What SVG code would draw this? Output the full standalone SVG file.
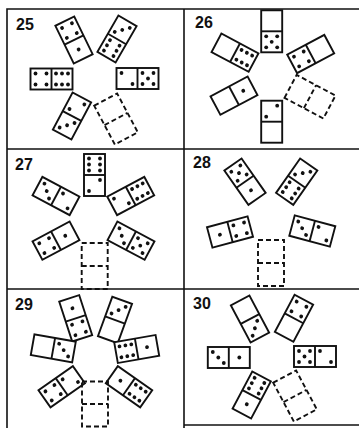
<svg xmlns="http://www.w3.org/2000/svg" xmlns:xlink="http://www.w3.org/1999/xlink" width="359" height="428" viewBox="0 0 359 428">
<style>
.frame{stroke:#111;stroke-width:1.6;fill:none}
.dom rect,.dom line{fill:#fff;stroke:#111;stroke-width:1.9}
.dash rect,.dash line{fill:none;stroke:#111;stroke-width:1.9;stroke-dasharray:5 3}
.pip{fill:#111}
.lbl{font-family:"Liberation Sans",Arial,sans-serif;font-weight:bold;font-size:16px;fill:#111}
</style>
<defs>
<g id="f1" class="pip"><circle r="1.9"/></g>
<g id="f2" class="pip"><circle cx="5.5" cy="-5.5" r="1.9"/><circle cx="-5.5" cy="5.5" r="1.9"/></g>
<g id="f3" class="pip"><circle cx="5.5" cy="-5.5" r="1.9"/><circle r="1.9"/><circle cx="-5.5" cy="5.5" r="1.9"/></g>
<g id="f4" class="pip"><circle cx="-5.5" cy="-5.5" r="1.9"/><circle cx="5.5" cy="-5.5" r="1.9"/><circle cx="-5.5" cy="5.5" r="1.9"/><circle cx="5.5" cy="5.5" r="1.9"/></g>
<g id="f5" class="pip"><circle cx="-5.5" cy="-5.5" r="1.9"/><circle cx="5.5" cy="-5.5" r="1.9"/><circle r="1.9"/><circle cx="-5.5" cy="5.5" r="1.9"/><circle cx="5.5" cy="5.5" r="1.9"/></g>
<g id="f6" class="pip"><circle cx="-5.5" cy="-6" r="1.9"/><circle cx="-5.5" cy="0" r="1.9"/><circle cx="-5.5" cy="6" r="1.9"/><circle cx="5.5" cy="-6" r="1.9"/><circle cx="5.5" cy="0" r="1.9"/><circle cx="5.5" cy="6" r="1.9"/></g>
</defs>

<g id="frame" class="frame">
<path d="M7 428V9H359"/>
<path d="M184 9V428"/>
<path d="M7 149H359M7 289H359"/>
<path d="M184 425H359"/>
</g>

<g id="labels" class="lbl">
<text x="16" y="30">25</text>
<text x="195" y="28">26</text>
<text x="15" y="170">27</text>
<text x="193" y="168">28</text>
<text x="15" y="310">29</text>
<text x="193" y="309">30</text>
</g>

<g id="connectors"/>

<!-- Panel 25 -->
<g id="p25a" class="dom" transform="translate(74 40) rotate(-26)"><rect x="-10.5" y="-21" width="21" height="42"/><line x1="-10.5" x2="10.5"/><use href="#f4" y="-10.5"/><use href="#f1" y="10.5"/></g>
<g id="p25b" class="dom" transform="translate(117 39) rotate(30)"><rect x="-10.5" y="-21" width="21" height="42"/><line x1="-10.5" x2="10.5"/><use href="#f3" y="-10.5"/><use href="#f6" y="10.5"/></g>
<g id="p25c" class="dom" transform="translate(51.5 79) rotate(-90)"><rect x="-10.5" y="-21" width="21" height="42"/><line x1="-10.5" x2="10.5"/><use href="#f4" y="-10.5"/><use href="#f6" y="10.5"/></g>
<g id="p25d" class="dom" transform="translate(137.5 78.5) rotate(-90)"><rect x="-10.5" y="-21" width="21" height="42"/><line x1="-10.5" x2="10.5"/><use href="#f2" y="-10.5"/><use href="#f5" y="10.5"/></g>
<g id="p25e" class="dom" transform="translate(72 116) rotate(28)"><rect x="-10.5" y="-21" width="21" height="42"/><line x1="-10.5" x2="10.5"/><use href="#f2" y="-10.5"/><use href="#f3" y="10.5"/></g>
<g id="p25f" class="dash" transform="translate(116 119) rotate(-28)"><rect x="-13" y="-22" width="26" height="44"/><line x1="-13" x2="13"/></g>

<!-- Panel 26 -->
<g id="p26a" class="dom" transform="translate(271.7 31.3)"><rect x="-10.5" y="-21" width="21" height="42"/><line x1="-10.5" x2="10.5"/><use href="#f5" y="10.5"/></g>
<g id="p26b" class="dom" transform="translate(235 52.7) rotate(-62)"><rect x="-10.5" y="-21" width="21" height="42"/><line x1="-10.5" x2="10.5"/><use href="#f6" y="10.5"/></g>
<g id="p26c" class="dom" transform="translate(310.7 54) rotate(-118)"><rect x="-10.5" y="-21" width="21" height="42"/><line x1="-10.5" x2="10.5"/><use href="#f4" y="-10.5"/></g>
<g id="p26d" class="dom" transform="translate(234 95.7) rotate(-118)"><rect x="-10.5" y="-21" width="21" height="42"/><line x1="-10.5" x2="10.5"/><use href="#f1" y="10.5"/></g>
<g id="p26e" class="dash" transform="translate(310 96.7) rotate(-62)"><rect x="-13" y="-22" width="26" height="44"/><line x1="-13" x2="13"/></g>
<g id="p26f" class="dom" transform="translate(271.7 121.7)"><rect x="-10.5" y="-21" width="21" height="42"/><line x1="-10.5" x2="10.5"/><use href="#f2" y="-10.5"/></g>

<!-- Panel 27 -->
<g id="p27a" class="dom" transform="translate(94.5 175)"><rect x="-10.5" y="-21" width="21" height="42"/><line x1="-10.5" x2="10.5"/><use href="#f6" y="-10.5"/><use href="#f2" y="10.5"/></g>
<g id="p27b" class="dom" transform="translate(56 196) rotate(-62)"><rect x="-10.5" y="-21" width="21" height="42"/><line x1="-10.5" x2="10.5"/><use href="#f3" y="-10.5"/><use href="#f2" y="10.5"/></g>
<g id="p27c" class="dom" transform="translate(130.7 196) rotate(-118)"><rect x="-10.5" y="-21" width="21" height="42"/><line x1="-10.5" x2="10.5"/><use href="#f2" y="-10.5"/><use href="#f6" y="10.5"/></g>
<g id="p27d" class="dom" transform="translate(56 240.7) rotate(-118)"><rect x="-10.5" y="-21" width="21" height="42"/><line x1="-10.5" x2="10.5"/><use href="#f4" y="-10.5"/><use href="#f1" y="10.5"/></g>
<g id="p27e" class="dom" transform="translate(131 240.7) rotate(-62)"><rect x="-10.5" y="-21" width="21" height="42"/><line x1="-10.5" x2="10.5"/><use href="#f3" y="-10.5"/><use href="#f5" y="10.5"/></g>
<g id="p27f" class="dash" transform="translate(94.7 266)"><rect x="-13" y="-23" width="26" height="46"/><line x1="-13" x2="13"/></g>

<!-- Panel 28 -->
<g id="p28a" class="dom" transform="translate(245 181.7) rotate(-35)"><rect x="-10.5" y="-21" width="21" height="42"/><line x1="-10.5" x2="10.5"/><use href="#f5" y="-10.5"/><use href="#f1" y="10.5"/></g>
<g id="p28b" class="dom" transform="translate(296.7 181.7) rotate(35)"><rect x="-10.5" y="-21" width="21" height="42"/><line x1="-10.5" x2="10.5"/><use href="#f3" y="-10.5"/><use href="#f6" y="10.5"/></g>
<g id="p28c" class="dom" transform="translate(230 232) rotate(-105)"><rect x="-10.5" y="-21" width="21" height="42"/><line x1="-10.5" x2="10.5"/><use href="#f1" y="-10.5"/><use href="#f4" y="10.5"/></g>
<g id="p28d" class="dom" transform="translate(312.3 231) rotate(-75)"><rect x="-10.5" y="-21" width="21" height="42"/><line x1="-10.5" x2="10.5"/><use href="#f3" y="-10.5"/><use href="#f2" y="10.5"/></g>
<g id="p28e" class="dash" transform="translate(271 263)"><rect x="-13" y="-23" width="26" height="46"/><line x1="-13" x2="13"/></g>

<!-- Panel 29 -->
<g id="p29a" class="dom" transform="translate(75.7 318.3) rotate(-18)"><rect x="-10.5" y="-21" width="21" height="42"/><line x1="-10.5" x2="10.5"/><use href="#f1" y="-10.5"/><use href="#f4" y="10.5"/></g>
<g id="p29b" class="dom" transform="translate(115 320) rotate(20)"><rect x="-10.5" y="-21" width="21" height="42"/><line x1="-10.5" x2="10.5"/><use href="#f3" y="-10.5"/></g>
<g id="p29c" class="dom" transform="translate(53.3 348.3) rotate(-80)"><rect x="-10.5" y="-21" width="21" height="42"/><line x1="-10.5" x2="10.5"/><use href="#f3" y="10.5"/></g>
<g id="p29d" class="dom" transform="translate(136.7 349) rotate(-100)"><rect x="-10.5" y="-21" width="21" height="42"/><line x1="-10.5" x2="10.5"/><use href="#f6" y="-10.5"/><use href="#f1" y="10.5"/></g>
<g id="p29e" class="dom" transform="translate(61.7 386.7) rotate(-125)"><rect x="-10.5" y="-21" width="21" height="42"/><line x1="-10.5" x2="10.5"/><use href="#f4" y="-10.5"/><use href="#f2" y="10.5"/></g>
<g id="p29f" class="dom" transform="translate(129 386.7) rotate(-55)"><rect x="-10.5" y="-21" width="21" height="42"/><line x1="-10.5" x2="10.5"/><use href="#f1" y="-10.5"/><use href="#f6" y="10.5"/></g>
<g id="p29g" class="dash" transform="translate(95 404)"><rect x="-13" y="-22.5" width="26" height="45"/><line x1="-13" x2="13"/></g>

<!-- Panel 30 -->
<g id="p30a" class="dom" transform="translate(250 319) rotate(-28)"><rect x="-10.5" y="-21" width="21" height="42"/><line x1="-10.5" x2="10.5"/><use href="#f3" y="10.5"/></g>
<g id="p30b" class="dom" transform="translate(294 318.3) rotate(28)"><rect x="-10.5" y="-21" width="21" height="42"/><line x1="-10.5" x2="10.5"/><use href="#f4" y="-10.5"/></g>
<g id="p30c" class="dom" transform="translate(228.8 357.5) rotate(-90)"><rect x="-10.5" y="-21" width="21" height="42"/><line x1="-10.5" x2="10.5"/><use href="#f3" y="-10.5"/><use href="#f1" y="10.5"/></g>
<g id="p30d" class="dom" transform="translate(315 356.5) rotate(-90)"><rect x="-10.5" y="-21" width="21" height="42"/><line x1="-10.5" x2="10.5"/><use href="#f5" y="-10.5"/><use href="#f2" y="10.5"/></g>
<g id="p30e" class="dom" transform="translate(251.7 395) rotate(28)"><rect x="-10.5" y="-21" width="21" height="42"/><line x1="-10.5" x2="10.5"/><use href="#f6" y="-10.5"/><use href="#f1" y="10.5"/></g>
<g id="p30f" class="dash" transform="translate(295 396) rotate(-28)"><rect x="-13" y="-22" width="26" height="44"/><line x1="-13" x2="13"/></g>
</svg>
